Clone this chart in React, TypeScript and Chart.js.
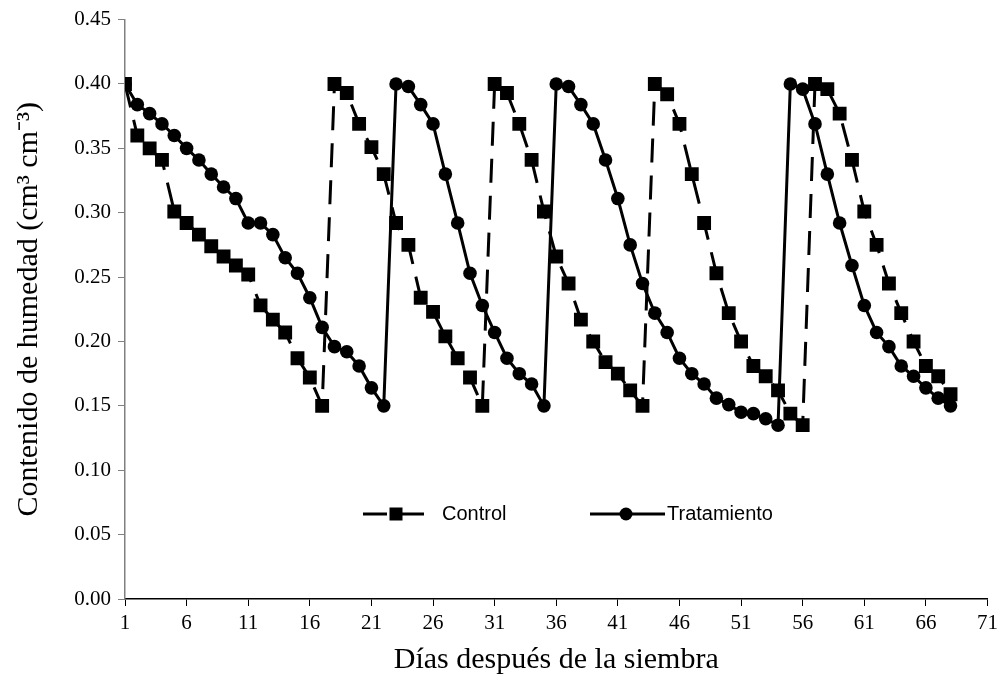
import React, { useEffect, useRef } from "react";
import { Chart, registerables } from "chart.js";

Chart.register(...registerables);

const days = [
  1, 2, 3, 4, 5, 6, 7, 8, 9, 10, 11, 12, 13, 14, 15, 16, 17, 18, 19, 20,
  21, 22, 23, 24, 25, 26, 27, 28, 29, 30, 31, 32, 33, 34, 35, 36, 37, 38, 39, 40,
  41, 42, 43, 44, 45, 46, 47, 48, 49, 50, 51, 52, 53, 54, 55, 56, 57, 58, 59, 60,
  61, 62, 63, 64, 65, 66, 67, 68,
];

const controlValues = [
  0.4, 0.36, 0.35, 0.341, 0.301, 0.292, 0.283, 0.274, 0.266, 0.259,
  0.252, 0.228, 0.217, 0.207, 0.187, 0.172, 0.15, 0.4, 0.393, 0.369,
  0.351, 0.33, 0.292, 0.275, 0.234, 0.223, 0.204, 0.187, 0.172, 0.15,
  0.4, 0.393, 0.369, 0.341, 0.301, 0.266, 0.245, 0.217, 0.2, 0.184,
  0.175, 0.162, 0.15, 0.4, 0.392, 0.369, 0.33, 0.292, 0.253, 0.222,
  0.2, 0.181, 0.173, 0.162, 0.144, 0.135, 0.4, 0.396, 0.377, 0.341,
  0.301, 0.275, 0.245, 0.222, 0.2, 0.181, 0.173, 0.159,
];

const tratamientoValues = [
  0.4, 0.384, 0.377, 0.369, 0.36, 0.35, 0.341, 0.33, 0.32, 0.311,
  0.292, 0.292, 0.283, 0.265, 0.253, 0.234, 0.211, 0.196, 0.192, 0.181,
  0.164, 0.15, 0.4, 0.398, 0.384, 0.369, 0.33, 0.292, 0.253, 0.228,
  0.207, 0.187, 0.175, 0.167, 0.15, 0.4, 0.398, 0.384, 0.369, 0.341,
  0.311, 0.275, 0.245, 0.222, 0.207, 0.187, 0.175, 0.167, 0.156, 0.151,
  0.145, 0.144, 0.14, 0.135, 0.4, 0.396, 0.369, 0.33, 0.292, 0.259,
  0.228, 0.207, 0.196, 0.181, 0.173, 0.164, 0.156, 0.15,
];

const xTickValues = [1, 6, 11, 16, 21, 26, 31, 36, 41, 46, 51, 56, 61, 66, 71];
const yTickValues = [0, 0.05, 0.1, 0.15, 0.2, 0.25, 0.3, 0.35, 0.4, 0.45];

const seriesNames = ["Control", "Tratamiento"];
const xTitle = "Días después de la siembra";
const yTitle = "Contenido de humedad (cm³ cm⁻³)";

const SERIF = "'Liberation Serif', 'Times New Roman', serif";
const SANS = "'Liberation Sans', Arial, sans-serif";

const legendPlugin = {
  id: "innerLegend",
  afterDraw(chart: any) {
    const ctx = chart.ctx;
    const items = [
      { ds: 0, x1: 363, x2: 427, mx: 396, tx: 442 },
      { ds: 1, x1: 590, x2: 665, mx: 626, tx: 667 },
    ];
    const y = 514;
    ctx.save();
    items.forEach((it) => {
      const ds = chart.data.datasets[it.ds];
      ctx.strokeStyle = "#000";
      ctx.lineWidth = 3;
      ctx.setLineDash(ds.borderDash || []);
      ctx.beginPath();
      ctx.moveTo(it.x1, y);
      ctx.lineTo(it.x2, y);
      ctx.stroke();
      ctx.setLineDash([]);
      ctx.fillStyle = "#000";
      if (ds.pointStyle === "rect") {
        ctx.fillRect(it.mx - 6.5, y - 6.5, 13, 13);
      } else {
        ctx.beginPath();
        ctx.arc(it.mx, y, 6.5, 0, Math.PI * 2);
        ctx.fill();
      }
      ctx.font = `20px ${SANS}`;
      ctx.textBaseline = "middle";
      ctx.textAlign = "left";
      ctx.fillText(ds.label, it.tx, y);
    });
    ctx.restore();
  },
};

export default function App() {
  const canvasRef = useRef<HTMLCanvasElement | null>(null);

  useEffect(() => {
    if (!canvasRef.current) return;
    const controlData = days.map((d, i) => ({ x: d, y: controlValues[i] }));
    const tratData = days.map((d, i) => ({ x: d, y: tratamientoValues[i] }));
    const chart = new Chart(canvasRef.current, {
      type: "line",
      data: {
        datasets: [
          {
            label: seriesNames[0],
            data: controlData,
            borderColor: "#000",
            backgroundColor: "#000",
            borderWidth: 3,
            borderDash: [24, 13],
            pointStyle: "rect",
            pointRadius: 9.8,
            pointHoverRadius: 9.8,
            pointBorderWidth: 0,
            tension: 0,
          },
          {
            label: seriesNames[1],
            data: tratData,
            borderColor: "#000",
            backgroundColor: "#000",
            borderWidth: 3,
            pointStyle: "circle",
            pointRadius: 6.8,
            pointHoverRadius: 6.8,
            pointBorderWidth: 0,
            tension: 0,
          },
        ],
      },
      options: {
        responsive: false,
        animation: false,
        layout: { padding: { top: 17, right: 13, left: 0, bottom: 0 } },
        plugins: {
          legend: { display: false },
          tooltip: { enabled: false },
        },
        scales: {
          x: {
            type: "linear",
            min: 1,
            max: 71,
            afterBuildTicks: (scale: any) => {
              scale.ticks = xTickValues.map((v) => ({ value: v }));
            },
            afterFit: (scale: any) => {
              scale.height = 82;
            },
            border: { color: "#000", width: 1.5 },
            grid: {
              drawOnChartArea: false,
              drawTicks: true,
              tickLength: 7,
              color: "#000",
            },
            ticks: {
              autoSkip: false,
              maxRotation: 0,
              padding: 5,
              color: "#000",
              font: { family: SERIF, size: 21 },
              callback: (v: any) => String(v),
            },
            title: {
              display: true,
              text: xTitle,
              color: "#000",
              font: { family: SERIF, size: 30 },
              padding: { top: 0, bottom: 3 },
            },
          },
          y: {
            min: 0,
            max: 0.45,
            afterBuildTicks: (scale: any) => {
              scale.ticks = yTickValues.map((v) => ({ value: v }));
            },
            afterFit: (scale: any) => {
              scale.width = 125;
            },
            border: { color: "#808080", width: 1.5 },
            grid: {
              drawOnChartArea: false,
              drawTicks: true,
              tickLength: 7,
              color: "#808080",
            },
            ticks: {
              padding: 7,
              color: "#000",
              font: { family: SERIF, size: 21 },
              callback: (v: any) => Number(v).toFixed(2),
            },
            title: {
              display: true,
              text: yTitle,
              color: "#000",
              font: { family: SERIF, size: 30 },
              padding: { top: 11, bottom: 0 },
            },
          },
        },
      },
      plugins: [legendPlugin],
    });
    return () => chart.destroy();
  }, []);

  return (
    <div style={{ position: "fixed", left: 0, top: 0, width: 1003, height: 681, background: "#fff" }}>
      <canvas ref={canvasRef} width={1003} height={681} style={{ display: "block" }} />
    </div>
  );
}
